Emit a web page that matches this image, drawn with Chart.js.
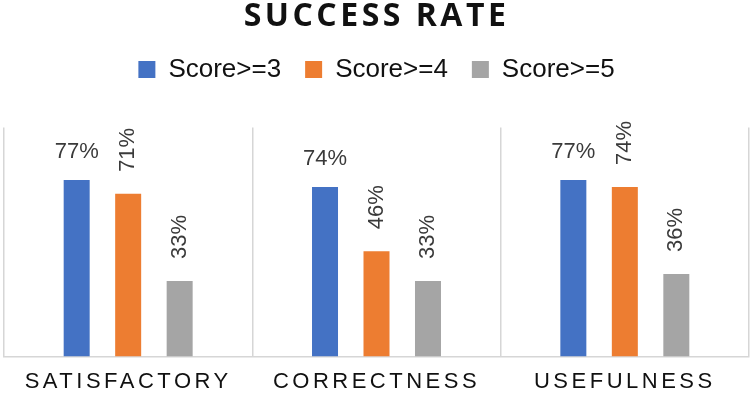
<!DOCTYPE html>
<html lang="en">
<head>
  <meta charset="UTF-8">
  <title>Success Rate</title>
  <script src="https://cdn.jsdelivr.net/npm/chart.js"></script>
  <style>
    html, body { margin: 0; padding: 0; background: #fff; }
    #wrap { width: 755px; height: 393px; position: relative; }
  </style>
</head>
<body>
  <div id="wrap"><canvas id="grafico"></canvas></div>
  <script>
    // Datos del gráfico
    const categorias = ['SATISFACTORY', 'CORRECTNESS', 'USEFULNESS'];
    const series = ['Score>=3', 'Score>=4', 'Score>=5'];
    const score3 = [77, 74, 77];
    const score4 = [71, 46, 74];
    const score5 = [33, 33, 36];

    // envuelve un método de dibujo para aplicar espaciado de letras
    function conEspaciado(obj, nombre, espacio) {
      const orig = obj[nombre];
      obj[nombre] = function (...args) {
        const ctx = this.ctx;
        ctx.save();
        ctx.letterSpacing = espacio;
        orig.apply(this, args);
        ctx.restore();
      };
    }

    const espaciado = {
      id: 'espaciado',
      beforeDraw(chart) {
        if (chart.$espaciado) return;
        chart.$espaciado = true;
        conEspaciado(chart.titleBlock, 'draw', '3.5px');
        conEspaciado(chart.scales.x, 'drawLabels', '3.5px');
      }
    };

    // espacio extra debajo de la leyenda
    const margenLeyenda = {
      id: 'margenLeyenda',
      beforeInit(chart) {
        const fit = chart.legend.fit;
        chart.legend.fit = function () {
          fit.call(this);
          this.height += 35;
        };
      }
    };

    // etiquetas de valor encima de las barras
    const etiquetas = {
      id: 'etiquetas',
      afterDatasetsDraw(chart) {
        const ctx = chart.ctx;
        chart.data.datasets.forEach((ds, i) => {
          const meta = chart.getDatasetMeta(i);
          meta.data.forEach((bar, j) => {
            const txt = ds.data[j] + '%';
            ctx.save();
            ctx.font = '22px "Liberation Sans", Arial, sans-serif';
            ctx.fillStyle = '#3a3a3a';
            if (ds.rotarEtiqueta) {
              ctx.translate(bar.x, bar.y - 22);
              ctx.rotate(-Math.PI / 2);
              ctx.textAlign = 'left';
              ctx.textBaseline = 'middle';
              ctx.fillText(txt, 0, 0);
            } else {
              ctx.textAlign = 'center';
              ctx.textBaseline = 'alphabetic';
              ctx.fillText(txt, bar.x, bar.y - 22);
            }
            ctx.restore();
          });
        });
      }
    };

    const gris = '#d6d6d6';

    new Chart(document.getElementById('grafico'), {
      type: 'bar',
      data: {
        labels: categorias,
        datasets: [
          { label: series[0], data: score3, backgroundColor: '#4472C4', rotarEtiqueta: false },
          { label: series[1], data: score4, backgroundColor: '#ED7D31', rotarEtiqueta: true },
          { label: series[2], data: score5, backgroundColor: '#A5A5A5', rotarEtiqueta: true }
        ]
      },
      options: {
        responsive: true,
        maintainAspectRatio: false,
        animation: false,
        layout: { padding: { left: 4, right: 6, top: 0, bottom: -14 } },
        datasets: {
          bar: { categoryPercentage: 0.622, barPercentage: 0.505, borderWidth: 0 }
        },
        plugins: {
          title: {
            display: true,
            text: 'SUCCESS RATE',
            color: '#111',
            font: { family: '"Open Sans", sans-serif', size: 32, weight: 'bold' },
            padding: { top: -2, bottom: -4 }
          },
          legend: {
            display: true,
            labels: {
              boxWidth: 17,
              boxHeight: 17,
              padding: 24,
              color: '#111',
              font: { family: '"Liberation Sans", Arial, sans-serif', size: 26 }
            }
          },
          tooltip: { enabled: false }
        },
        scales: {
          x: {
            grid: { display: true, color: gris, lineWidth: 1.5, drawTicks: false, offset: true },
            border: { display: true, color: gris, width: 1.5 },
            ticks: {
              color: '#111',
              padding: 12,
              maxRotation: 0,
              autoSkip: false,
              font: { family: '"Liberation Sans", Arial, sans-serif', size: 22 }
            }
          },
          y: {
            display: false,
            min: 0,
            max: 100
          }
        }
      },
      plugins: [espaciado, margenLeyenda, etiquetas]
    });
  </script>
</body>
</html>
